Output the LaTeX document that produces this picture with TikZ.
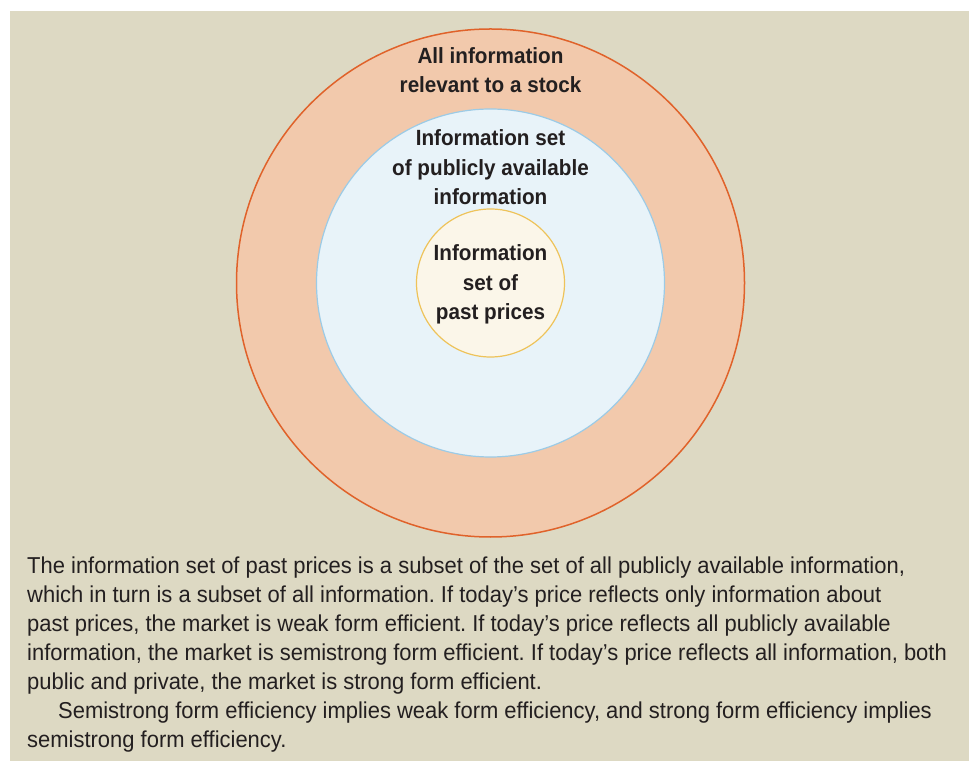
\documentclass[tikz,border=0pt]{standalone}
\usepackage{fontspec}
\setmainfont[FakeStretch=0.955,BoldFeatures={FakeStretch=0.94}]{Liberation Sans}
\usepackage{tikz}
\usetikzlibrary{positioning}
\frenchspacing

\definecolor{boxbg}{HTML}{DDD9C3}
\definecolor{allfill}{HTML}{F2C9AC}
\definecolor{allline}{HTML}{E0622A}
\definecolor{pubfill}{HTML}{E8F3F9}
\definecolor{publine}{HTML}{9CCBE6}
\definecolor{pastfill}{HTML}{FBF6E9}
\definecolor{pastline}{HTML}{EEC35A}
\definecolor{ink}{HTML}{231F20}

\tikzset{
  ring/.style={circle, inner sep=0pt},
  ringlabel/.style={font=\fontsize{22}{29.5}\selectfont\bfseries, text=ink, align=center, anchor=base, inner sep=0pt},
}

\begin{document}
\begin{tikzpicture}[x=1pt,y=1pt]
    \useasboundingbox (0,0) rectangle (969,761);
    \fill[boxbg] (10,0) rectangle (969,750);
    % nested sets
    \node[ring, fill=allfill, draw=allline, line width=1.5pt, minimum size=508pt] (all) at (490.5,478) {};
    \node[ring, fill=pubfill, draw=publine, line width=1.2pt, minimum size=348pt] (public) at (490.5,478) {};
    \node[ring, fill=pastfill, draw=pastline, line width=1.2pt, minimum size=148pt] (past) at (490.5,478) {};
    \node[ringlabel] (alltext) at (490.5,668) {All information\\relevant to a stock};
    \node[ringlabel] (pubtext) at (490.5,556) {Information set\\of publicly available\\information};
    \node[ringlabel] (pasttext) at (490.5,441) {Information\\set of\\past prices};
    % caption
    \node[font=\fontsize{23}{29}\selectfont, text=ink, align=left, anchor=base west, inner sep=0pt] (caption) at (27,14)
      {The information set of past prices is a subset of the set of all publicly available information,\\
       which in turn is a subset of all information. If today’s price reflects only information about\\
       past prices, the market is weak form efficient. If today’s price reflects all publicly available\\
       information, the market is semistrong form efficient. If today’s price reflects all information, both\\
       public and private, the market is strong form efficient.\\
       \hspace*{31pt}Semistrong form efficiency implies weak form efficiency, and strong form efficiency implies\\
       semistrong form efficiency.};
  \end{tikzpicture}
\end{document}
